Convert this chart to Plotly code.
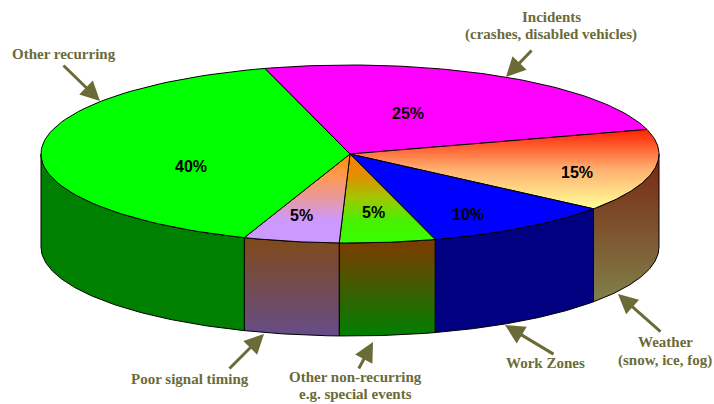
import numpy as np
import plotly.graph_objects as go

# Data, clockwise from the first slice
categories = ["Incidents", "Weather", "Work Zones", "Other non-recurring", "Poor signal timing", "Other recurring"]
values = [25, 15, 10, 5, 5, 40]
pct_labels = ["25%", "15%", "10%", "5%", "5%", "40%"]

# Styling
top_colors = [
    ["#ff00ff", "#ff00ff"],
    ["#ff2000", "#ffb070", "#ffff99"],
    ["#0000ff", "#0000ff"],
    ["#ff8000", "#e09000", "#a0c800", "#48f000", "#38ff00"],
    ["#ff8c00", "#ff9a50", "#e898a0", "#cc99ff", "#cc99ff"],
    ["#00ff00", "#00ff00"],
]
side_colors = [
    ["#ff00ff", "#800080"],
    ["#7a2510", "#80804a"],
    ["#000080", "#000080"],
    ["#7f3a00", "#007f00"],
    ["#804a18", "#664d88"],
    ["#008000", "#008000"],
]
CX, CY, RX, RY, DEPTH = 350, 154, 309, 89, 93
START_ANGLE = 106
INK = "#6b6b38"


def arc(a1, a2, dy=0):
    t = np.radians(np.linspace(a1, a2, 80))
    return CX + RX * np.cos(t), CY - RY * np.sin(t) + dy


def colorscale(cols):
    return [[i / (len(cols) - 1), c] for i, c in enumerate(cols)]


fig = go.Figure()
edges = START_ANGLE - np.cumsum([0] + values) * 3.6
LINE = dict(color="black", width=1)

# Side walls, only on the front half of the rim
for i, name in enumerate(categories):
    hi, lo = min(edges[i], 0), max(edges[i + 1], -180)
    if hi <= lo:
        continue
    xt, yt = arc(hi, lo)
    xb, yb = arc(lo, hi, DEPTH)
    x = np.r_[xt, xb, xt[0]]
    y = np.r_[yt, yb, yt[0]]
    fig.add_trace(go.Scatter(
        x=x, y=y, mode="lines", fill="toself", line=LINE, hoverinfo="skip", name=name + " side",
        fillgradient=dict(type="vertical", colorscale=colorscale(side_colors[i]),
                          start=float(y.min()), stop=float(y.max())),
    ))

# Top face
for i, name in enumerate(categories):
    xa, ya = arc(edges[i], edges[i + 1])
    x = np.r_[CX, xa, CX]
    y = np.r_[CY, ya, CY]
    fig.add_trace(go.Scatter(
        x=x, y=y, mode="lines", fill="toself", line=LINE, hoverinfo="skip", name=name,
        fillgradient=dict(type="vertical", colorscale=colorscale(top_colors[i]),
                          start=float(y.min()), stop=float(y.max())),
    ))

annotations = []
# Percent labels
pct_pos = [(408, 113), (577, 172), (468, 214), (373, 212), (301, 215), (191, 166)]
for (px, py), t in zip(pct_pos, pct_labels):
    annotations.append(dict(x=px, y=py, text=t, showarrow=False, xref="x", yref="y",
                            font=dict(family="Liberation Sans", size=16, color="black", weight="bold")))

# Callout labels
callouts = [
    (64, 54, "Other recurring"),
    (551, 17, "Incidents"),
    (551, 34, "(crashes, disabled vehicles)"),
    (665, 342, "Weather"),
    (665, 360, "(snow, ice, fog)"),
    (545, 363, "Work Zones"),
    (190, 379, "Poor signal timing"),
    (355, 377, "Other non-recurring"),
    (355, 394, "e.g. special events"),
]
for x, y, t in callouts:
    annotations.append(dict(x=x, y=y, text=t, showarrow=False, xref="x", yref="y",
                            font=dict(family="Liberation Serif", size=15, color=INK, weight="bold")))

# Arrows: tail -> head
arrows = [
    (62, 64, 100, 101),
    (533, 49, 506, 77),
    (662, 333, 618, 294),
    (555, 355, 505, 325),
    (228, 370, 264, 334),
    (358, 370, 373, 342),
]
for x0, y0, x1, y1 in arrows:
    annotations.append(dict(x=x1, y=y1, ax=x0, ay=y0, xref="x", yref="y", axref="x", ayref="y",
                            text="", showarrow=True, arrowhead=2, arrowsize=1.3, arrowwidth=3,
                            arrowcolor=INK))

fig.update_layout(
    width=714, height=404, margin=dict(l=0, r=0, t=0, b=0),
    paper_bgcolor="white", plot_bgcolor="white", showlegend=False,
    xaxis=dict(range=[0, 714], visible=False, fixedrange=True),
    yaxis=dict(range=[404, 0], visible=False, fixedrange=True),
    annotations=annotations,
)
fig.write_html("out.html", config={"displayModeBar": False},
               post_script="document.body.style.margin='0';document.body.style.overflow='hidden';")
